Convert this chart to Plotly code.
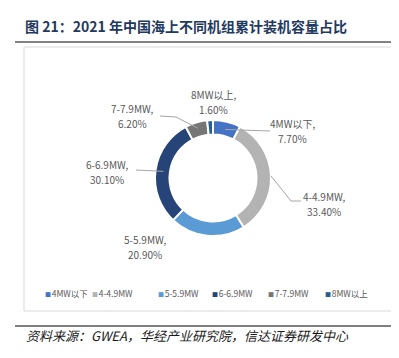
import math
import plotly.graph_objects as go

# ---- data ----
categories = ["4MW以下", "4-4.9MW", "5-5.9MW", "6-6.9MW", "7-7.9MW", "8MW以上"]
shares = [7.7, 33.4, 20.9, 30.1, 6.2, 1.6]
colors = ["#4472C4", "#B3B3B3", "#5B9BD5", "#264478", "#767676", "#255E91"]

title_text = "图 21：2021 年中国海上不同机组累计装机容量占比"
source_text = "资料来源：GWEA，华经产业研究院，信达证券研发中心"

W, H = 399, 358
FONT = "Noto Sans CJK SC"

def px(x):
    return x / W

def py(y):
    return 1 - y / H

# donut geometry (pixels)
cx, cy, R = 205, 170, 58

fig = go.Figure(go.Pie(
    labels=categories,
    values=shares,
    sort=False,
    direction="clockwise",
    rotation=0,
    hole=0.75,
    marker=dict(colors=colors, line=dict(color="white", width=2)),
    textinfo="none",
    hoverinfo="label+percent",
    showlegend=False,
    domain=dict(x=[px(cx - R), px(cx + R)], y=[py(cy + R), py(cy - R)]),
))

# angle helpers from data
total = sum(shares)
mids = []
acc = 0
for v in shares:
    mids.append((acc + v / 2) / total * 360)
    acc += v

def ring_pt(i, r):
    a = math.radians(mids[i])
    return cx + r * math.sin(a), cy - r * math.cos(a)

annotations = []
shapes = []

# data labels (positions chosen to match layout), two lines each
label_pos = {0: (284, 123), 1: (316, 196), 2: (137, 239), 3: (99, 164), 4: (124, 108), 5: (205, 94)}
for i, (cat, v) in enumerate(zip(categories, shares)):
    x, y = label_pos[i]
    for txt, yy in ((f"{cat},", y - 7.5), (f"{v:.2f}%", y + 7.5)):
        annotations.append(dict(
            x=px(x), y=py(yy), xref="paper", yref="paper",
            text=txt, showarrow=False,
            xanchor="center", yanchor="middle", align="center",
            font=dict(family=FONT, size=10, color="#595959"),
        ))

# leader lines
def poly(points):
    d = "M " + " L ".join(f"{px(x)} {py(y)}" for x, y in points)
    return dict(type="path", path=d, xref="paper", yref="paper",
                line=dict(color="#A6A6A6", width=1))

shapes.append(poly([ring_pt(0, 50), (262, 123)]))
shapes.append(poly([ring_pt(1, 58), (283, 193), (293, 193)]))
shapes.append(poly([ring_pt(3, 50), (128, 162)]))
shapes.append(poly([ring_pt(4, 52), (168, 109), (152, 108)]))

# frame / rules
shapes.append(dict(type="line", xref="paper", yref="paper",
                   x0=px(7), x1=px(392), y0=py(34), y1=py(34),
                   line=dict(color="#595959", width=1.5)))
shapes.append(dict(type="rect", xref="paper", yref="paper",
                   x0=px(16), x1=px(404), y0=py(39), y1=py(303),
                   line=dict(color="#D9D9D9", width=1)))
shapes.append(dict(type="line", xref="paper", yref="paper",
                   x0=px(7), x1=px(392), y0=py(318), y1=py(318),
                   line=dict(color="#000000", width=1)))

# legend built from categories/colors
legend_x = [35, 82, 148, 202, 258, 315]
for cat, col, lx in zip(categories, colors, legend_x):
    annotations.append(dict(
        x=px(lx), y=py(285), xref="paper", yref="paper",
        text=f'<span style="color:{col};font-size:6px">■</span><span style="font-size:3px"> </span>{cat}',
        showarrow=False, xanchor="left", yanchor="middle",
        font=dict(family=FONT, size=8.5, color="#595959"),
    ))

# title and source
annotations.append(dict(
    x=px(15), y=py(18), xref="paper", yref="paper", text=f"<b>{title_text}</b>",
    showarrow=False, xanchor="left", yanchor="middle",
    font=dict(family=FONT, size=14, color="#1F3A60"),
))
annotations.append(dict(
    x=px(16), y=py(327), xref="paper", yref="paper", text=f"<i>{source_text}</i>",
    showarrow=False, xanchor="left", yanchor="middle",
    font=dict(family=FONT, size=13, color="#1A1A1A"),
))

fig.update_layout(
    width=W, height=H,
    margin=dict(l=0, r=0, t=0, b=0),
    paper_bgcolor="white", plot_bgcolor="white",
    annotations=annotations, shapes=shapes,
)

fig.write_html("out.html")
